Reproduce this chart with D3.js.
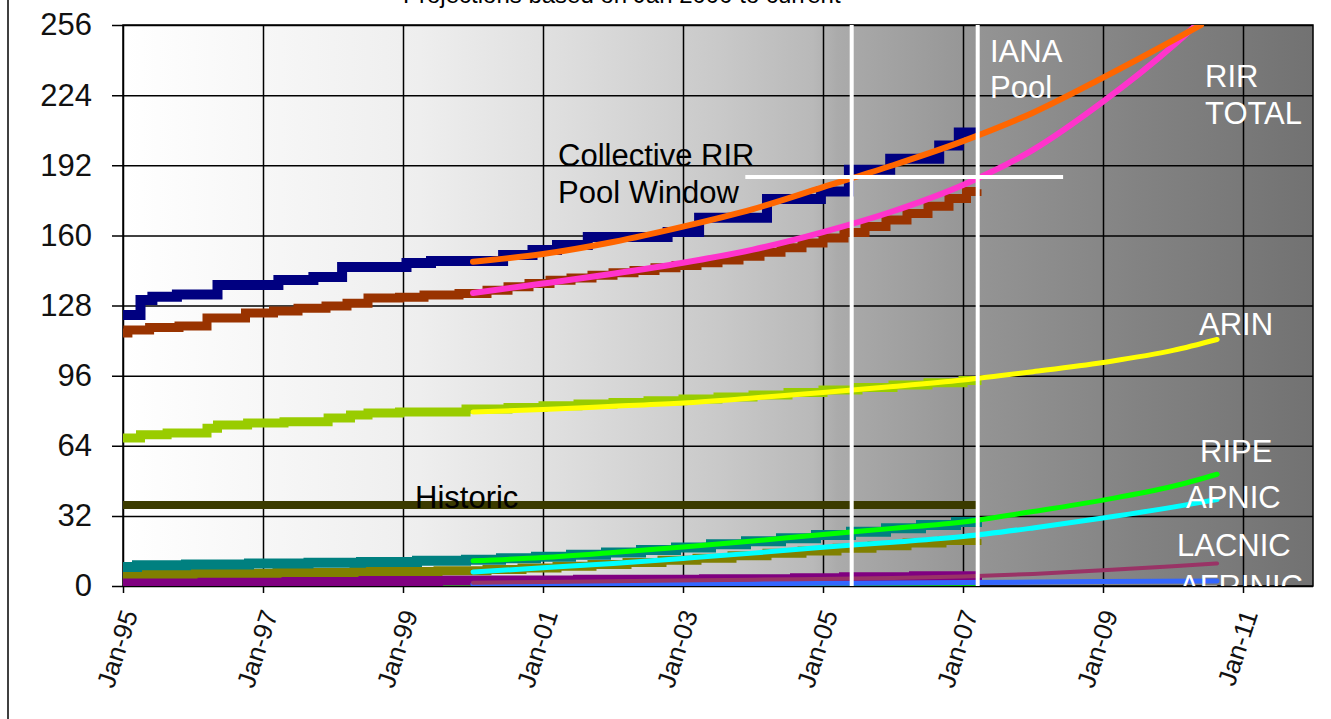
<!DOCTYPE html>
<html>
<head>
<meta charset="utf-8">
<script src="https://cdn.jsdelivr.net/npm/d3@7"></script>
<style>
  body { margin: 0; background: #fff; }
  svg { display: block; font-family: "Liberation Sans", Arial, sans-serif; }
</style>
</head>
<body>
<script>
// Dimensiones de la figura
const WIDTH = 1331;
const HEIGHT = 719;
const PLOT = { left: 123, right: 1313, top: 25, bottom: 586 };

// Ejes
const yTicks = [0, 32, 64, 96, 128, 160, 192, 224, 256];
const xTickYears = [1995, 1997, 1999, 2001, 2003, 2005, 2007, 2009, 2011];
const xTickLabels = ["Jan-95", "Jan-97", "Jan-99", "Jan-01", "Jan-03", "Jan-05", "Jan-07", "Jan-09", "Jan-11"];

// Series históricas (año decimal, /8 asignados) - escalonadas
const ianaHist = [[1994.93,123.7],[1995.25,130.5],[1995.42,132],[1995.77,133],[1996.35,137.4],[1997.22,139.6],[1997.72,141],[1998.13,145.6],[1999.05,147.4],[1999.4,148.3],[2000.43,151],[2000.85,153.3],[2001.2,155.6],[2001.64,159.3],[2002.78,161.5],[2003.23,168],[2004.2,176.6],[2004.97,180],[2005.37,190],[2005.96,195],[2006.66,201],[2006.94,207],[2007.2,207]];
const rirHist = [[1994.93,115.5],[1995.07,116.8],[1995.38,118],[1995.8,118.6],[1996.2,122.3],[1996.75,124.6],[1997.15,125.5],[1997.5,126.8],[1997.9,127.8],[1998.2,129],[1998.5,131.4],[1998.95,131.8],[1999.3,132.8],[1999.8,133.5],[2000.2,135],[2000.5,136.5],[2000.8,138],[2001.1,139.5],[2001.4,140.5],[2001.7,141.8],[2002.0,143],[2002.3,144],[2002.6,145.2],[2002.9,146.3],[2003.2,147.5],[2003.5,148.8],[2003.8,150.5],[2004.1,152.3],[2004.4,154.3],[2004.7,156.5],[2005.0,158.8],[2005.3,161.3],[2005.6,164],[2005.9,167],[2006.2,170],[2006.5,173.3],[2006.8,176.8],[2007.05,180],[2007.2,181]];
const arinHist = [[1994.93,67.5],[1995.25,69],[1995.63,69.8],[1996.2,72],[1996.35,73.5],[1996.78,74.4],[1997.3,75],[1997.93,76.7],[1998.25,78],[1998.5,78.9],[1998.95,79.4],[1999.9,80.8],[2000.5,81.5],[2001.0,82.2],[2001.5,83],[2002.0,83.7],[2002.5,84.5],[2003.0,85.3],[2003.5,86.2],[2004.0,87.2],[2004.5,88.3],[2005.0,89.4],[2005.5,90.6],[2006.0,91.7],[2006.5,92.8],[2007.0,93.8],[2007.2,94.3]];
const historic = [[1994.93,37],[2007.2,37]];
const ripeHist = [[1994.93,8.7],[1995.2,9.5],[1995.9,9.8],[1996.8,10.3],[1997.65,10.6],[1998.4,11],[1999.2,11.5],[1999.9,12],[2000.4,12.7],[2000.9,13.4],[2001.4,14.3],[2001.9,15.3],[2002.4,16.4],[2002.9,17.6],[2003.4,19],[2003.9,20.4],[2004.4,21.8],[2004.9,23.3],[2005.4,24.8],[2005.9,26.3],[2006.4,27.8],[2006.9,29.2],[2007.2,30]];
const apnicHist = [[1994.93,5.5],[1996.0,5.8],[1997.2,6.2],[1998.3,6.6],[1999.5,7],[2000.2,7.5],[2000.7,8.2],[2001.2,9],[2001.7,9.8],[2002.2,10.7],[2002.7,11.7],[2003.2,12.7],[2003.7,13.8],[2004.2,14.9],[2004.7,16],[2005.2,17.2],[2005.7,18.4],[2006.2,19.6],[2006.7,20.8],[2007.2,21.5]];
const lacnicHist = [[1994.93,2.3],[1999.5,2.5],[2001.5,2.8],[2003.3,3.1],[2004.6,3.5],[2005.3,4],[2006.3,4.4],[2007.2,4.6]];
const afrinicHist = [[1994.93,0.3],[2004.8,0.3],[2005.0,0.8],[2007.2,0.8]];

// Proyecciones (curvas suaves)
const ianaProj = [[2000,148],[2001,151.5],[2002,157],[2003,164],[2004,172],[2005,182],[2006,192],[2007,203],[2008,216],[2009,232],[2010,249],[2010.4,256]];
const rirProj = [[2000,133.7],[2001,138],[2002,142.5],[2003,147.5],[2004,153.5],[2005,161.5],[2006,171],[2007,183],[2008,199],[2009,221],[2010,246.5],[2010.33,256]];
const arinProj = [[2000,79.4],[2001,80.5],[2002,82],[2003,83.5],[2004,85.8],[2005,88.3],[2006,91],[2007,94],[2008,97.8],[2009,102],[2010,107.5],[2010.63,112.5]];
const ripeProj = [[2000,11.5],[2001,13],[2002,15.3],[2003,17.8],[2004,20.5],[2005,23.5],[2006,26.3],[2007,29.2],[2008,34],[2009,39.2],[2010,45.5],[2010.63,51]];
const apnicProj = [[2000,6.4],[2001,8.3],[2002,10.3],[2003,12.6],[2004,15],[2005,17.7],[2006,20],[2007,22.6],[2008,26.5],[2009,31],[2010,36],[2010.63,39.5]];
const lacnicProj = [[2000,1.5],[2002,2.2],[2004,2.9],[2006,3.7],[2007,4.3],[2008,5.5],[2009,7.2],[2010,9],[2010.63,10.3]];
const afrinicProj = [[2000,0.8],[2003,1],[2005,1.2],[2007,1.6],[2009,2],[2010.63,2.3]];

// Ventana colectiva de los RIR (líneas blancas)
const windowYears = [2005.41, 2007.21];
const windowLevel = 186.6;
const windowSpan = [2003.89, 2008.43];

const svg = d3.select("body").append("svg")
  .attr("width", WIDTH)
  .attr("height", HEIGHT);

const x = d3.scaleLinear().domain([1995, 2012]).range([PLOT.left, PLOT.right]);
const y = d3.scaleLinear().domain([0, 256]).range([PLOT.bottom, PLOT.top]);

// Fondo degradado
const defs = svg.append("defs");
const grad = defs.append("linearGradient").attr("id", "bg").attr("x1", 0).attr("x2", 1).attr("y1", 0).attr("y2", 0);
[[0, "#ffffff"], [0.25, "#eeeeee"], [0.37, "#dedede"], [0.5, "#c9c9c9"], [0.58, "#b9b9b9"], [0.6, "#ababab"],
 [0.72, "#949494"], [0.85, "#838383"], [1, "#727272"]]
  .forEach(([o, c]) => grad.append("stop").attr("offset", o).attr("stop-color", c));
defs.append("clipPath").attr("id", "plotclip").append("rect")
  .attr("x", PLOT.left).attr("y", PLOT.top)
  .attr("width", PLOT.right - PLOT.left).attr("height", PLOT.bottom - PLOT.top);

// marco exterior
svg.append("line").attr("x1", 8).attr("x2", 8).attr("y1", 0).attr("y2", HEIGHT)
  .attr("stroke", "#000").attr("stroke-width", 1.5);

// título cortado arriba
svg.append("text").attr("x", 403).attr("y", 3).attr("font-size", 24).attr("fill", "#000")
  .text("Projections based on Jan 2000 to current");

svg.append("rect")
  .attr("x", PLOT.left).attr("y", PLOT.top)
  .attr("width", PLOT.right - PLOT.left).attr("height", PLOT.bottom - PLOT.top)
  .attr("fill", "url(#bg)");

// Rejilla + eje Y
const ejeY = svg.append("g")
  .attr("transform", `translate(${PLOT.left},0)`)
  .call(d3.axisLeft(y).tickValues(yTicks).tickSize(11).tickPadding(20));
ejeY.select(".domain").remove();
ejeY.selectAll("line").attr("x2", PLOT.right - PLOT.left).attr("x1", -11)
  .attr("stroke", "#000").attr("stroke-width", 1.5);
ejeY.selectAll("text").attr("font-size", 31).attr("fill", "#111")
  .attr("font-family", "Liberation Sans, Arial, sans-serif");

// Rejilla + eje X
const ejeX = svg.append("g")
  .attr("transform", `translate(0,${PLOT.bottom})`)
  .call(d3.axisBottom(x).tickValues(xTickYears).tickSize(7).tickFormat((d, i) => xTickLabels[i]));
ejeX.select(".domain").remove();
ejeX.selectAll("line").attr("y1", -(PLOT.bottom - PLOT.top)).attr("y2", 7)
  .attr("stroke", "#000").attr("stroke-width", 1.5);
ejeX.selectAll("text")
  .attr("font-size", 26).attr("fill", "#111")
  .attr("font-family", "Liberation Sans, Arial, sans-serif")
  .attr("text-anchor", "end")
  .attr("x", 0).attr("y", 0).attr("dy", "0.35em")
  .attr("transform", "translate(6,25) rotate(-72)");

// borde del área
svg.append("rect")
  .attr("x", PLOT.left).attr("y", PLOT.top)
  .attr("width", PLOT.right - PLOT.left).attr("height", PLOT.bottom - PLOT.top)
  .attr("fill", "none").attr("stroke", "#000").attr("stroke-width", 1.5);

const plot = svg.append("g").attr("clip-path", "url(#plotclip)");

const stepLine = d3.line().x((d) => x(d[0])).y((d) => y(d[1])).curve(d3.curveStepAfter);
const smoothLine = d3.line().x((d) => x(d[0])).y((d) => y(d[1])).curve(d3.curveMonotoneX);

const historicas = [
  { datos: afrinicHist, color: "#00ff00", ancho: 3 },
  { datos: lacnicHist, color: "#800080", ancho: 10 },
  { datos: apnicHist, color: "#808000", ancho: 9 },
  { datos: ripeHist, color: "#008080", ancho: 10 },
  { datos: historic, color: "#3b3b00", ancho: 8 },
  { datos: arinHist, color: "#99cc00", ancho: 9 },
  { datos: rirHist, color: "#993300", ancho: 9 },
  { datos: ianaHist, color: "#000080", ancho: 10 },
];
plot.selectAll("path.hist")
  .data(historicas)
  .join("path")
  .attr("class", "hist")
  .attr("d", (d) => stepLine(d.datos))
  .attr("fill", "none")
  .attr("stroke", (d) => d.color)
  .attr("stroke-width", (d) => d.ancho);

const proyecciones = [
  { datos: afrinicProj, color: "#3366ff", ancho: 5 },
  { datos: lacnicProj, color: "#993366", ancho: 4 },
  { datos: apnicProj, color: "#00ffff", ancho: 5 },
  { datos: ripeProj, color: "#00ff00", ancho: 5 },
  { datos: arinProj, color: "#ffff00", ancho: 5 },
  { datos: rirProj, color: "#ff33cc", ancho: 6 },
  { datos: ianaProj, color: "#ff6600", ancho: 6 },
];
plot.selectAll("path.proj")
  .data(proyecciones)
  .join("path")
  .attr("class", "proj")
  .attr("d", (d) => smoothLine(d.datos))
  .attr("fill", "none")
  .attr("stroke", (d) => d.color)
  .attr("stroke-width", (d) => d.ancho)
  .attr("stroke-linecap", "round");

// Líneas blancas de la ventana
plot.selectAll("line.ventana")
  .data(windowYears)
  .join("line")
  .attr("class", "ventana")
  .attr("x1", (d) => x(d)).attr("x2", (d) => x(d))
  .attr("y1", PLOT.top).attr("y2", PLOT.bottom)
  .attr("stroke", "#fff").attr("stroke-width", 4);
plot.append("line")
  .attr("x1", x(windowSpan[0])).attr("x2", x(windowSpan[1]))
  .attr("y1", y(windowLevel)).attr("y2", y(windowLevel))
  .attr("stroke", "#fff").attr("stroke-width", 4);

// Etiquetas
const etiquetas = [
  { t: "Collective RIR", px: 558, py: 166, c: "#000" },
  { t: "Pool Window", px: 558, py: 203, c: "#000" },
  { t: "Historic", px: 415, py: 508, c: "#000" },
  { t: "IANA", px: 990, py: 62, c: "#fff" },
  { t: "Pool", px: 990, py: 98, c: "#fff" },
  { t: "RIR", px: 1205, py: 87, c: "#fff" },
  { t: "TOTAL", px: 1205, py: 124, c: "#fff" },
  { t: "ARIN", px: 1199, py: 335, c: "#fff" },
  { t: "RIPE", px: 1200, py: 462, c: "#fff" },
  { t: "APNIC", px: 1186, py: 508, c: "#fff" },
  { t: "LACNIC", px: 1177, py: 556, c: "#fff" },
  { t: "AFRINIC", px: 1179, py: 597, c: "#fff" },
];
plot.selectAll("text.etq")
  .data(etiquetas)
  .join("text")
  .attr("class", "etq")
  .attr("x", (d) => d.px)
  .attr("y", (d) => d.py)
  .attr("fill", (d) => d.c)
  .attr("font-size", 31)
  .text((d) => d.t);
</script>
</body>
</html>
